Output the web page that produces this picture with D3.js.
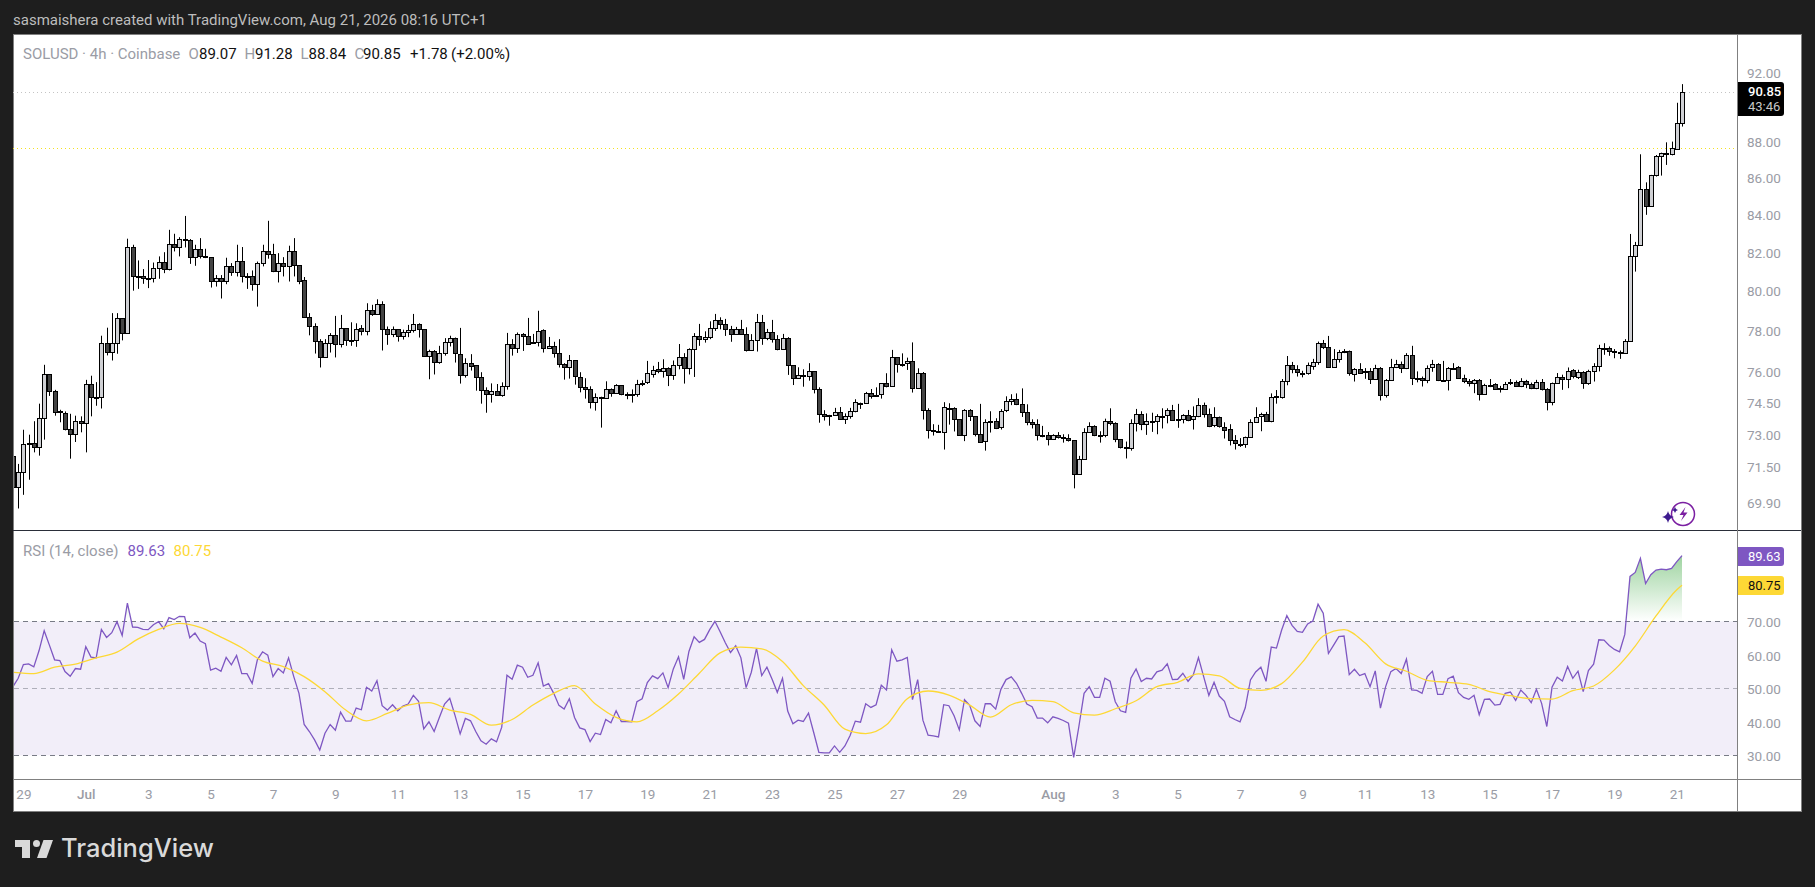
<!DOCTYPE html>
<html>
<head>
<meta charset="utf-8">
<title>SOLUSD 4h</title>
<script src="https://d3js.org/d3.v7.min.js"></script>
<style>
html, body { margin: 0; padding: 0; background: #1e1e1e; }
svg { display: block; font-family: Roboto, sans-serif; }
</style>
</head>
<body>
<div id="chart"></div>
<script>
var w = 1815;
var h = 887;

// 4h candles
var opens = [71.97,70.57,71.25,72.58,72.58,72.4,73.75,75.85,75.02,74.07,
73.98,73.23,72.99,73.61,73.51,75.36,74.76,74.74,77.36,76.92,
77.36,78.6,77.86,82.26,80.77,80.75,80.65,80.64,81.16,81.47,
81.11,82.42,82.26,82.69,82.63,81.73,82.15,81.78,81.73,80.49,
80.63,80.49,81.27,80.95,81.53,80.76,80.75,80.33,81.42,82.05,
81.89,81.0,81.42,81.27,82.05,81.32,80.54,78.65,78.2,77.47,
76.68,77.36,77.76,77.31,78.11,77.52,77.51,78.11,77.96,79.01,
78.81,79.31,78.06,77.81,78.06,77.71,77.91,78.01,78.31,78.06,
76.72,76.97,76.43,76.87,77.41,77.61,76.82,75.78,76.38,76.28,
75.7,75.06,74.87,75.02,74.83,75.26,77.31,77.11,77.81,77.71,
77.4,77.41,78.0,77.11,77.21,76.87,76.33,76.18,76.52,75.7,
75.21,75.11,74.5,74.73,74.68,75.11,74.92,75.31,74.88,74.87,
74.87,75.4,75.45,75.84,76.08,75.99,76.13,75.79,76.28,76.67,
76.13,77.06,77.71,77.56,77.66,78.1,78.5,78.3,78.05,77.81,
78.05,77.81,77.01,77.51,78.4,77.61,77.9,77.56,77.06,77.61,
76.28,75.65,75.74,75.74,75.99,75.11,73.93,73.9,73.88,74.02,
73.69,73.83,74.07,74.46,74.45,74.92,74.78,74.87,75.4,75.26,
76.67,76.36,76.37,76.47,75.16,75.89,74.12,73.19,73.12,73.09,
74.22,74.21,73.69,72.95,74.12,73.83,72.99,72.67,73.61,73.6,
73.32,74.12,74.55,74.64,74.4,74.03,73.55,73.46,72.96,72.95,
72.76,72.95,72.85,72.81,72.71,71.16,71.84,73.09,73.37,72.96,
72.95,73.6,73.5,72.76,72.38,72.34,73.5,73.93,73.46,73.61,
73.6,73.85,73.88,74.12,73.7,73.69,73.88,73.69,73.83,74.36,
73.93,73.41,73.78,73.32,73.23,72.71,72.55,72.53,72.85,73.55,
73.83,73.93,73.6,74.78,74.72,75.5,76.28,76.08,75.92,75.9,
76.23,76.43,77.36,77.16,76.19,76.57,76.92,76.97,75.85,76.09,
75.93,75.99,75.61,76.14,74.84,75.56,76.19,76.33,76.14,76.77,
75.66,75.65,75.56,76.19,76.33,75.57,75.56,76.09,76.19,75.65,
75.51,75.41,75.56,74.88,75.33,75.36,75.17,75.17,75.48,75.46,
75.27,75.51,75.36,75.17,75.46,75.12,74.5,75.41,75.7,75.61,
76.04,75.7,75.94,75.41,75.99,76.23,77.12,77.11,76.97,76.93,
76.87,77.46,81.77,82.35,85.35,84.43,86.12,87.17,87.34,87.28,
87.62,89.07];

var highs = [72.2,71.62,73.2,72.97,73.6,74.43,76.3,75.85,75.09,74.14,
74.06,73.95,73.86,73.83,75.57,75.77,75.46,77.73,78.13,78.86,
78.86,78.6,82.7,82.38,81.56,81.11,81.58,81.45,81.77,81.99,
83.17,82.96,82.78,83.91,82.68,82.38,82.73,82.17,81.73,80.8,
80.8,81.7,81.42,82.38,82.26,80.9,81.04,81.5,82.38,83.65,
82.43,81.94,81.73,82.33,82.73,81.32,80.7,78.86,78.35,77.56,
77.56,77.86,78.72,78.77,78.11,78.4,78.35,78.26,79.36,79.28,
79.56,79.46,78.19,78.19,78.06,78.03,78.27,78.82,78.35,78.06,
77.04,77.02,77.23,77.61,77.73,77.64,78.12,76.62,76.82,76.28,
75.94,75.21,75.4,75.37,75.45,77.87,77.56,77.89,77.86,78.62,
77.82,78.98,78.05,77.67,77.43,77.56,76.38,76.78,76.52,75.94,
75.65,75.26,74.92,74.76,75.5,75.16,75.36,75.31,74.97,75.11,
75.57,75.55,76.49,76.25,76.44,76.57,76.18,76.51,77.32,76.87,
77.11,77.86,78.32,77.95,78.45,78.82,78.65,78.57,78.22,78.17,
78.52,78.15,77.81,78.82,78.77,78.07,78.52,77.76,77.82,77.66,
76.28,76.18,76.08,76.38,75.99,75.21,74.12,73.9,74.23,74.27,
73.97,74.23,74.64,74.48,74.99,75.13,75.21,75.4,75.89,77.03,
76.67,76.86,76.65,77.4,76.13,75.95,74.21,73.46,73.43,74.5,
74.45,74.26,73.69,74.17,74.17,73.83,74.42,73.69,74.07,73.74,
74.17,74.78,74.88,74.92,75.16,74.4,73.69,73.69,73.38,73.09,
72.99,73.09,72.99,72.99,72.71,71.99,73.27,73.55,73.41,73.13,
73.72,74.21,73.55,72.76,72.65,73.69,74.18,74.07,73.97,74.0,
73.93,74.21,74.21,74.37,74.42,73.93,74.13,74.3,74.69,74.48,
74.2,74.26,73.82,73.55,73.46,72.95,72.81,72.88,73.69,74.26,
74.0,74.04,74.92,75.08,75.61,76.73,76.44,76.28,76.01,76.41,
76.59,77.44,77.52,77.72,77.07,77.03,77.07,77.0,76.14,76.38,
76.14,76.14,76.3,76.19,75.61,76.59,76.54,76.46,76.87,77.23,
75.98,75.73,76.27,76.54,76.38,76.49,76.19,76.38,76.24,75.82,
75.61,75.61,75.61,75.38,75.61,75.41,75.28,75.47,75.61,75.54,
75.65,75.57,75.44,75.57,75.61,75.17,75.44,75.9,75.82,76.17,
76.09,76.06,75.99,76.06,76.38,77.28,77.36,77.2,77.07,77.0,
77.56,82.95,82.53,87.28,85.73,86.14,87.24,87.37,87.95,87.99,
90.2,91.28];

var lows = [70.3,69.61,70.22,70.9,72.15,72.0,72.74,74.8,73.86,73.55,
73.17,71.86,72.63,73.08,72.15,73.83,74.33,74.2,76.76,76.51,
76.84,77.5,77.86,80.0,80.09,80.35,80.13,80.42,80.61,80.9,
81.04,82.03,81.77,82.24,81.38,81.28,81.66,81.68,80.16,80.21,
79.6,80.33,80.76,80.73,80.42,80.09,80.0,79.19,81.25,81.65,
80.95,80.42,80.73,80.47,80.73,80.33,78.65,77.75,76.85,76.17,
76.68,76.9,76.66,77.15,77.23,77.23,77.18,77.75,77.75,78.72,
78.77,77.0,77.28,77.66,77.44,77.54,77.66,77.89,77.64,76.72,
75.6,75.83,76.35,76.75,77.2,76.41,75.39,75.68,76.02,75.05,
74.43,74.0,74.48,74.8,74.76,75.1,76.75,76.88,76.98,77.31,
77.36,77.2,76.9,77.11,76.65,76.17,75.58,75.63,75.34,74.97,
74.67,74.2,74.1,73.3,74.68,74.76,74.92,74.83,74.64,74.48,
74.76,75.27,75.37,75.68,75.89,75.68,75.27,75.57,76.08,75.39,
75.83,75.71,77.23,77.39,77.56,77.97,78.05,77.72,77.43,77.81,
77.77,76.95,77.01,76.95,77.28,77.51,77.39,77.01,77.11,75.81,
75.32,75.65,75.24,75.53,74.92,73.53,73.63,73.39,73.85,73.66,
73.47,73.72,74.02,74.18,74.45,74.67,74.76,74.67,75.21,75.26,
75.92,76.21,76.05,74.96,75.16,73.68,72.79,72.93,73.09,72.28,
73.44,73.12,72.95,72.67,73.61,72.89,72.62,72.23,73.07,73.23,
73.21,74.03,74.36,74.36,73.8,73.41,73.26,72.7,72.85,72.47,
72.76,72.79,72.6,72.65,70.51,71.16,71.84,73.07,72.9,72.6,
72.85,73.41,72.62,72.33,71.87,72.23,73.12,73.18,72.96,73.1,
72.99,73.26,73.5,73.64,73.29,73.5,73.6,73.21,73.79,73.77,
73.32,73.32,73.3,72.79,72.47,72.28,72.4,72.36,72.85,73.55,
73.13,73.57,73.55,74.43,74.67,75.31,75.89,75.73,75.69,75.82,
76.06,76.3,77.07,76.19,76.19,76.41,76.87,75.77,75.49,75.86,
75.62,75.37,75.61,74.58,74.72,75.56,76.14,75.9,76.09,75.32,
75.45,75.25,75.41,75.96,75.51,75.54,75.06,76.06,75.65,75.41,
75.25,74.93,74.58,74.88,75.22,75.09,74.96,75.16,75.32,75.25,
75.22,75.17,75.12,75.12,75.06,74.11,74.35,75.38,75.09,75.17,
75.64,75.61,75.14,75.33,75.49,75.98,76.79,76.74,76.62,76.59,
76.87,77.43,80.98,82.32,83.97,84.43,86.05,86.1,86.69,87.22,
87.56,88.84];

var closes = [70.57,71.25,72.54,72.52,72.4,73.75,75.85,75.02,74.03,74.01,
73.23,72.99,73.61,73.51,75.36,74.74,74.74,77.36,76.92,77.36,
78.6,77.86,82.26,80.75,80.75,80.64,80.64,81.16,81.47,81.11,
82.42,82.26,82.68,82.67,81.73,82.15,81.78,81.73,80.49,80.63,
80.49,81.27,80.95,81.53,80.75,80.74,80.33,81.42,82.05,81.89,
81.0,81.42,81.27,82.05,81.32,80.49,78.65,78.2,77.47,76.68,
77.36,77.76,77.31,78.11,77.51,77.5,78.06,77.96,79.01,78.81,
79.31,78.06,77.81,78.06,77.71,77.91,78.01,78.31,78.06,76.72,
76.97,76.43,76.87,77.41,77.61,76.87,75.78,76.38,76.23,75.7,
75.06,74.87,75.02,74.83,75.26,77.31,77.11,77.81,77.71,77.31,
77.38,77.95,77.11,77.21,76.87,76.33,76.18,76.52,75.73,75.21,
75.11,74.5,74.73,74.68,75.11,74.92,75.31,74.87,74.87,74.88,
75.36,75.34,75.89,76.04,75.99,76.13,75.79,76.28,76.67,76.13,
77.06,77.71,77.56,77.66,78.1,78.5,78.3,78.05,77.81,78.05,
77.81,77.01,77.51,78.4,77.61,77.9,77.56,77.06,77.61,76.28,
75.65,75.79,75.79,75.99,75.11,73.93,73.82,73.88,74.02,73.69,
73.83,74.07,74.5,74.45,74.92,74.78,74.84,75.4,75.26,76.67,
76.33,76.34,76.47,75.16,75.89,74.12,73.18,73.17,73.09,74.26,
74.2,73.69,72.95,74.12,73.83,72.99,72.62,73.55,73.6,73.27,
74.07,74.55,74.64,74.39,74.03,73.55,73.46,72.95,72.95,72.76,
72.95,72.85,72.82,72.71,71.16,71.84,73.09,73.37,72.95,72.95,
73.6,73.5,72.76,72.39,72.37,73.5,73.93,73.46,73.6,73.6,
73.83,73.86,74.12,73.64,73.69,73.88,73.64,73.83,74.36,73.93,
73.37,73.78,73.37,73.18,72.71,72.57,72.54,72.85,73.55,73.78,
73.93,73.6,74.73,74.77,75.5,76.28,76.08,75.94,75.9,76.28,
76.43,77.36,77.16,76.19,76.57,76.92,76.97,75.9,76.09,75.9,
75.99,75.61,76.14,74.84,75.56,76.19,76.33,76.14,76.77,75.65,
75.64,75.56,76.14,76.33,75.56,75.56,76.14,76.14,75.65,75.51,
75.41,75.56,74.88,75.32,75.31,75.12,75.16,75.39,75.47,75.27,
75.51,75.36,75.17,75.46,75.12,74.5,75.41,75.7,75.61,75.99,
75.75,75.94,75.41,75.99,76.23,77.11,77.1,76.97,76.92,76.91,
77.46,81.77,82.35,85.35,84.43,86.12,87.17,87.33,87.33,87.62,
89.07,90.85];

// RSI(14) per candle
var rsi = [50.5,53.0,57.1,57.3,56.4,61.2,67.2,62.9,58.5,58.3,
55.0,53.6,55.9,55.7,62.4,59.3,59.1,67.6,65.2,66.6,
69.9,65.8,75.4,68.3,68.2,67.6,67.5,69.0,69.9,67.8,
71.1,70.5,71.5,71.4,65.1,66.5,64.1,63.3,55.4,56.0,
55.1,59.2,57.0,59.8,54.4,54.4,51.5,58.5,60.9,59.9,
53.5,55.9,54.6,59.1,53.5,48.5,39.2,37.1,34.6,31.6,
36.6,39.2,37.5,42.9,40.2,40.2,44.1,43.6,50.3,49.2,
52.3,44.8,43.5,45.1,43.3,44.7,45.3,47.9,46.1,37.9,
40.0,37.1,41.3,
45.3,47.0,42.0,36.4,41.0,40.3,37.1,34.3,33.3,34.9,
34.0,38.4,53.9,52.7,56.9,56.3,53.3,53.9,57.6,50.7,
51.4,48.5,44.9,43.8,46.9,41.3,38.2,37.7,34.1,36.6,
36.2,40.7,39.7,43.3,40.1,40.1,40.0,46.0,46.9,51.7,
53.7,52.9,54.6,50.2,55.8,59.4,52.7,61.0,65.4,63.7,
64.6,67.5,70.0,66.9,63.6,60.7,62.7,59.1,50.2,54.8,
61.9,53.8,56.3,52.7,48.8,53.0,43.2,39.4,40.5,40.1,
42.6,36.8,30.9,30.7,30.7,32.8,30.9,32.8,35.9,40.2,
39.9,45.4,44.3,
45.1,50.9,49.5,61.5,58.1,58.5,59.2,46.6,52.6,40.5,
36.0,35.8,35.5,45.1,44.8,41.8,37.6,46.6,44.9,40.3,
38.6,45.4,45.4,43.8,49.7,52.6,53.4,51.5,48.5,45.3,
44.5,41.1,41.1,39.7,41.5,41.0,40.4,39.6,29.4,38.6,
48.5,50.5,47.3,47.3,53.0,52.1,46.0,43.3,42.8,53.0,
55.8,52.0,53.0,52.8,54.9,55.4,57.3,52.6,52.7,54.5,
52.1,54.0,59.2,53.5,47.9,51.8,47.7,46.1,41.5,40.7,
40.0,44.2,52.5,54.9,56.3,52.1,62.3,62.0,67.4,71.7,
68.8,67.0,
66.7,69.2,70.1,75.1,72.4,60.4,62.9,65.4,65.6,54.1,
55.7,53.8,54.4,50.5,55.2,44.1,50.5,55.0,55.9,54.4,
58.7,49.5,49.4,48.5,53.5,55.1,48.2,48.2,52.9,53.6,
48.7,47.3,46.7,47.9,42.1,46.7,46.8,45.0,45.2,48.5,
48.9,46.4,49.5,47.9,45.7,49.7,45.5,38.6,50.3,53.3,
52.2,56.5,53.0,55.1,49.0,55.3,57.2,64.5,64.4,62.8,
61.6,60.9,66.1,83.4,84.6,88.8,81.3,83.9,85.3,85.6,
85.4,85.8,87.8,89.63];

// RSI moving average, read every fourth candle
var rsiMaBars = d3.range(0, 321, 4).concat([321]);
var rsiMa = [54.8,54.4,56.3,57.2,59.1,60.8,64.7,67.6,69.4,68.2,
65.3,62.1,58.1,56.5,53.5,49.0,43.5,40.3,42.5,45.0,
45.7,43.5,42.2,39.0,40.7,45.0,48.5,50.8,45.3,41.3,
40.0,43.3,48.3,54.5,60.6,62.3,61.8,58.0,50.8,45.0,
37.8,36.5,39.1,46.9,49.2,48.0,45.0,41.4,45.1,46.4,
46.0,42.7,42.0,43.9,46.3,50.5,51.8,54.3,53.7,50.0,
49.4,51.4,57.8,65.6,67.5,63.6,57.3,55.1,52.4,51.8,
51.2,49.0,47.8,46.9,46.8,49.3,50.7,55.5,62.6,71.6,
79.4,80.75];

// axis labels
var priceTicks = [92, 88, 86, 84, 82, 80, 78, 76, 74.5, 73, 71.5, 69.9];
var rsiTicks = [70, 60, 50, 40, 30];
var timeBars = [2,14,26,38,50,62,74,86,98,110,122,134,146,158,170,182,
    200,212,224,236,248,260,272,284,296,308,320];
var timeLabels = ["29","Jul","3","5","7","9","11","13","15","17","19","21","23","25","27","29",
    "Aug","3","5","7","9","11","13","15","17","19","21"];

var lastPrice = 90.85;
var prevClose = 87.62;

var plotL = 13, plotR = 1737, chartR = 1801;
var plotT = 34, paneB = 530, rsiB = 779, chartB = 811;

var x = d3.scaleLinear().domain([0, 321]).range([13, 1682]);
var y = d3.scaleLog().domain([68.66, 94.25]).range([paneB, plotT]);
var yr = d3.scaleLinear().domain([22.93, 96.96]).range([rsiB, paneB + 1]);

var svg = d3.select("#chart").append("svg").attr("width", w).attr("height", h);

var defs = svg.append("defs");
defs.append("clipPath").attr("id", "plotClip").append("rect")
    .attr("x", plotL + 1).attr("y", plotT).attr("width", plotR - plotL - 1).attr("height", chartB - plotT);
defs.append("clipPath").attr("id", "obClip").append("rect")
    .attr("x", plotL).attr("y", paneB).attr("width", plotR - plotL).attr("height", yr(70) - paneB);
var grad = defs.append("linearGradient").attr("id", "obGrad")
    .attr("gradientUnits", "userSpaceOnUse")
    .attr("x1", 0).attr("x2", 0).attr("y1", yr(90)).attr("y2", yr(70));
grad.append("stop").attr("offset", 0).attr("stop-color", "#4caf50").attr("stop-opacity", 0.55);
grad.append("stop").attr("offset", 1).attr("stop-color", "#4caf50").attr("stop-opacity", 0);

//frame
svg.append("rect").attr("width", w).attr("height", h).attr("fill", "#1e1e1e");
svg.append("rect")
    .attr("x", plotL + 0.5).attr("y", plotT + 0.5)
    .attr("width", chartR - plotL).attr("height", chartB - plotT)
    .attr("fill", "#fff").attr("stroke", "#808080");

svg.append("text").attr("x", 13).attr("y", 25)
    .attr("fill", "#bdbdbd").attr("font-size", 15)
    .text("sasmaishera created with TradingView.com, Aug 21, 2026 08:16 UTC+1");

// price lines
svg.append("line").attr("x1", plotL).attr("x2", plotR)
    .attr("y1", Math.round(y(lastPrice)) + 0.5).attr("y2", Math.round(y(lastPrice)) + 0.5)
    .attr("stroke", "#c4c4c4").attr("stroke-dasharray", "1 3");
svg.append("line").attr("x1", plotL).attr("x2", plotR)
    .attr("y1", Math.round(y(prevClose)) + 0.5).attr("y2", Math.round(y(prevClose)) + 0.5)
    .attr("stroke", "#f5e11e").attr("stroke-dasharray", "1 3");

// candles
var bars = d3.range(closes.length);
var candles = svg.append("g").attr("clip-path", "url(#plotClip)");

candles.selectAll("line.wick")
    .data(bars)
    .enter()
    .append("line")
    .attr("class", "wick")
    .attr("x1", function (i) { return Math.round(x(i)) + 0.5; })
    .attr("x2", function (i) { return Math.round(x(i)) + 0.5; })
    .attr("y1", function (i) { return y(highs[i]); })
    .attr("y2", function (i) { return y(lows[i]); })
    .attr("stroke", "#000");

candles.selectAll("rect.body")
    .data(bars)
    .enter()
    .append("rect")
    .attr("class", "body")
    .attr("x", function (i) { return Math.round(x(i)) - 1.5; })
    .attr("y", function (i) { return Math.round(y(Math.max(opens[i], closes[i]))) + 0.5; })
    .attr("width", 4)
    .attr("height", function (i) {
        return Math.max(1, Math.round(Math.abs(y(opens[i]) - y(closes[i]))));
    })
    .attr("fill", function (i) { return closes[i] >= opens[i] ? "#cfd0d4" : "#444444"; })
    .attr("stroke", "#000");

// rsi pane
svg.append("rect").attr("x", plotL + 1).attr("y", yr(70))
    .attr("width", plotR - plotL - 1).attr("height", yr(30) - yr(70))
    .attr("fill", "#7e57c2").attr("fill-opacity", 0.1);

[70, 50, 30].forEach(function (d) {
    svg.append("line").attr("x1", plotL + 1).attr("x2", plotR)
        .attr("y1", Math.round(yr(d)) + 0.5).attr("y2", Math.round(yr(d)) + 0.5)
        .attr("stroke", "#787b86").attr("stroke-opacity", d == 50 ? 0.55 : 1)
        .attr("stroke-dasharray", "5 4");
});

svg.append("path")
    .attr("clip-path", "url(#obClip)")
    .attr("fill", "url(#obGrad)")
    .attr("d", d3.area()
        .x(function (i) { return x(i); })
        .y0(yr(70))
        .y1(function (i) { return yr(rsi[i]); })(bars));

svg.append("path")
    .attr("clip-path", "url(#plotClip)")
    .attr("fill", "none").attr("stroke", "#7e57c2").attr("stroke-width", 1.3)
    .attr("d", d3.line()
        .x(function (i) { return x(i); })
        .y(function (i) { return yr(rsi[i]); })(bars));

svg.append("path")
    .attr("clip-path", "url(#plotClip)")
    .attr("fill", "none").attr("stroke", "#fdd835").attr("stroke-width", 1.3)
    .attr("d", d3.line()
        .curve(d3.curveMonotoneX)
        .x(function (d) { return x(d); })
        .y(function (d, i) { return yr(rsiMa[i]); })(rsiMaBars));

// separators
svg.append("line").attr("x1", plotL).attr("x2", chartR)
    .attr("y1", paneB + 0.5).attr("y2", paneB + 0.5).attr("stroke", "#2a2e39");
svg.append("line").attr("x1", plotL).attr("x2", chartR)
    .attr("y1", rsiB + 0.5).attr("y2", rsiB + 0.5).attr("stroke", "#808080");
svg.append("line").attr("x1", plotR + 0.5).attr("x2", plotR + 0.5)
    .attr("y1", plotT).attr("y2", chartB).attr("stroke", "#808080");

// axes
function styleAxis(g) {
    g.select(".domain").remove();
    g.selectAll(".tick line").remove();
    g.selectAll("text").attr("fill", "#9a9ca5").attr("font-size", 13.5)
        .attr("font-family", "Roboto, sans-serif")
        .attr("font-weight", function () {
            var s = d3.select(this).text();
            return s == "Jul" || s == "Aug" ? 500 : 400;
        });
}

svg.append("g").attr("transform", "translate(" + (plotR + 10) + ",1)")
    .call(d3.axisRight(y).tickValues(priceTicks).tickSize(0).tickPadding(0)
        .tickFormat(d3.format(".2f")))
    .call(styleAxis);

svg.append("g").attr("transform", "translate(" + (plotR + 10) + ",1)")
    .call(d3.axisRight(yr).tickValues(rsiTicks).tickSize(0).tickPadding(0)
        .tickFormat(d3.format(".2f")))
    .call(styleAxis);

svg.append("g").attr("transform", "translate(0," + (rsiB + 10) + ")")
    .call(d3.axisBottom(x).tickValues(timeBars).tickSize(0).tickPadding(0)
        .tickFormat(function (d, i) { return timeLabels[i]; }))
    .call(styleAxis);

// legends
function legend(yPos, parts) {
    var t = svg.append("text").attr("y", yPos).attr("font-size", 15);
    parts.forEach(function (p) {
        t.append("tspan").attr("x", p[0]).attr("fill", p[2]).text(p[1]);
    });
}
var grey = "#9a9ca5";
legend(59, [
    [23, "SOLUSD · 4h · Coinbase", grey],
    [188.5, "O", grey], [199, "89.07", "#111"],
    [244.5, "H", grey], [255, "91.28", "#111"],
    [300.5, "L", grey], [308.5, "88.84", "#111"],
    [354.5, "C", grey], [363, "90.85", "#111"],
    [410, "+1.78", "#111"], [451, "(+2.00%)", "#111"]
]);
legend(556, [
    [23, "RSI (14, close)", grey],
    [127.5, "89.63", "#7e57c2"],
    [173.5, "80.75", "#fdd835"]
]);

// value labels on the axis
function axisTag(yTop, height, fill) {
    svg.append("path")
        .attr("d", "M" + (plotR + 1) + "," + yTop + "h43q3,0 3,3v" + (height - 6) + "q0,3 -3,3h-43z")
        .attr("fill", fill);
}
axisTag(82, 34, "#000");
svg.append("text").attr("x", 1748).attr("y", 96).attr("fill", "#fff")
    .attr("font-size", 13).attr("font-weight", 500).text("90.85");
svg.append("text").attr("x", 1748).attr("y", 111).attr("fill", "#c8c8c8")
    .attr("font-size", 13).text("43:46");

axisTag(Math.round(yr(89.63)) - 9, 19, "#7e57c2");
svg.append("text").attr("x", 1748).attr("y", yr(89.63) + 5).attr("fill", "#fff")
    .attr("font-size", 13).text("89.63");

axisTag(Math.round(yr(80.75)) - 9, 19, "#fdd835");
svg.append("text").attr("x", 1748).attr("y", yr(80.75) + 5).attr("fill", "#111")
    .attr("font-size", 13).text("80.75");

// bolt badge in the price pane
var badge = svg.append("g").attr("transform", "translate(1683,514)")
    .attr("fill", "none").attr("stroke", "#7b1fa2").attr("stroke-width", 1.5);
badge.append("circle").attr("r", 11.5);
badge.append("path").attr("d", "M2.5,-7 L-3.5,1 H0.5 L-2,7 L4.5,-1.5 H0.5 Z")
    .attr("stroke", "none").attr("fill", "#7b1fa2");
svg.append("path").attr("transform", "translate(1668,517)")
    .attr("d", "M0,-6 Q1,-1 6,0 Q1,1 0,6 Q-1,1 -6,0 Q-1,-1 0,-6Z")
    .attr("fill", "#3d1a8f");
svg.append("path").attr("transform", "translate(1675,510)")
    .attr("d", "M0,-3 Q.5,-.5 3,0 Q.5,.5 0,3 Q-.5,.5 -3,0 Q-.5,-.5 0,-3Z")
    .attr("fill", "#3d1a8f");

// tradingview mark
var mark = svg.append("g").attr("fill", "#d9d9d9");
mark.append("path").attr("d", "M15,840 H30 V858 H22 V847 H15 Z");
mark.append("circle").attr("cx", 36.5).attr("cy", 843.5).attr("r", 3.5);
mark.append("path").attr("d", "M43.5,840 H53 L46.5,858 H37 Z");
mark.append("text").attr("x", 61).attr("y", 857).attr("font-size", 25.5)
    .attr("font-weight", 500).attr("font-family", "Inter, sans-serif").text("TradingView");
</script>
</body>
</html>
